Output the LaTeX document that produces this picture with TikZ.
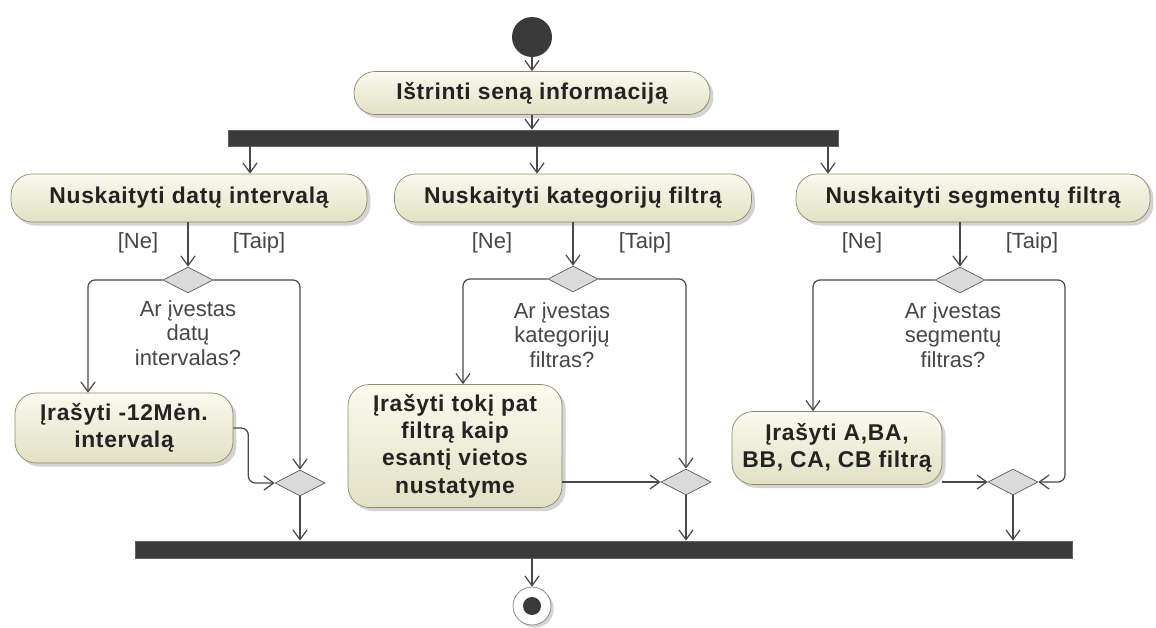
\documentclass[tikz,border=0pt]{standalone}
\usepackage{fontspec}
\setmainfont{Liberation Sans}
\usepackage{tikz}
\usetikzlibrary{arrows.meta,shapes.geometric,shadows}
\definecolor{barcol}{RGB}{58,58,58}
\definecolor{linecol}{RGB}{72,72,72}
\definecolor{boxedge}{RGB}{138,138,108}
\definecolor{boxtop}{RGB}{250,250,238}
\definecolor{boxbot}{RGB}{226,224,196}
\definecolor{diafill}{RGB}{218,218,218}
\definecolor{txtcol}{RGB}{35,35,35}
\definecolor{guardcol}{RGB}{70,70,70}
\tikzset{
  action/.style={draw=boxedge,rounded corners=12pt,top color=boxtop,bottom color=boxbot,
    text=txtcol,font=\fontsize{13}{15.5}\selectfont\bfseries\addfontfeatures{LetterSpace=3},
    align=center,
    drop shadow={shadow xshift=2pt,shadow yshift=-2pt,opacity=0.35}},
  syncbar/.style={fill=barcol,draw=barcol!80,inner sep=0pt},
  decision/.style={diamond,draw=gray!70!black,fill=diafill,inner sep=0pt,
    minimum width=1cm,minimum height=0.52cm},
  flow/.style={draw=linecol,line width=0.7pt,-{Straight Barb[length=5.5pt,width=8pt]}},
  guard/.style={text=guardcol,font=\fontsize{12.5}{14}\selectfont},
  question/.style={guard,align=center}
}
\begin{document}
\begin{tikzpicture}[x=0.02cm,y=-0.02cm]
\useasboundingbox (0,0) rectangle (1156,628);

% start, clearing and fork
\node[circle,fill=barcol,minimum size=0.8cm,inner sep=0pt] (start) at (532,37) {};
\node[action,minimum width=7.12cm,minimum height=0.86cm] (del) at (532,93) {Ištrinti seną informaciją};
\node[syncbar,minimum width=12.2cm,minimum height=0.32cm] (fork) at (533,138) {};
\draw[flow] (start) -- (del);
\draw[flow] (del.south) -- (del.south |- fork.north);

% readers
\node[action,minimum width=7.12cm,minimum height=0.96cm] (readA) at (189,198) {Nuskaityti datų intervalą};
\node[action,minimum width=7.14cm,minimum height=0.96cm] (readB) at (573,198) {Nuskaityti kategorijų filtrą};
\node[action,minimum width=7.08cm,minimum height=0.96cm] (readC) at (973,198) {Nuskaityti segmentų filtrą};
\draw[flow] (fork.south -| 250,0) -- (readA.north -| 250,0);
\draw[flow] (fork.south -| 537,0) -- (readB.north -| 537,0);
\draw[flow] (fork.south -| 828,0) -- (readC.north -| 828,0);

% decisions
\node[decision] (decA) at (188,280) {};
\node[decision] (decB) at (573,279) {};
\node[decision] (decC) at (960,280) {};
\draw[flow] (readA.south -| decA) -- (decA);
\draw[flow] (readB.south -| decB) -- (decB);
\draw[flow] (readC.south -| decC) -- (decC);
\node[guard] (neA) at (138,243) {[Ne]};
\node[guard] (taipA) at (259,243) {[Taip]};
\node[guard] (neB) at (492,243) {[Ne]};
\node[guard] (taipB) at (645,243) {[Taip]};
\node[guard] (neC) at (862,243) {[Ne]};
\node[guard] (taipC) at (1032,243) {[Taip]};
\node[question] (qA) at (188,333) {Ar įvestas\\datų\\intervalas?};
\node[question] (qB) at (562,335) {Ar įvestas\\kategorijų\\filtras?};
\node[question] (qC) at (953,335) {Ar įvestas\\segmentų\\filtras?};

% default values
\node[action,minimum width=4.36cm,minimum height=1.4cm] (setA) at (124,428) {Įrašyti -12Mėn.\\intervalą};
\node[action,minimum width=4.28cm,minimum height=2.46cm] (setB) at (455,446) {Įrašyti tokį pat\\filtrą kaip\\esantį vietos\\nustatyme};
\node[action,minimum width=4.2cm,minimum height=1.46cm] (setC) at (837,448) {Įrašyti A,BA,\\BB, CA, CB filtrą};

% merges
\node[decision] (mrgA) at (300,483) {};
\node[decision] (mrgB) at (686,482) {};
\node[decision] (mrgC) at (1013,482) {};
\draw[flow,rounded corners=4pt] (decA.west) -| (setA.north -| 88,0);
\draw[flow,rounded corners=4pt] (decA.east) -| (mrgA.north);
\draw[flow,rounded corners=4pt] (setA.east) -- ++(15,0) |- (mrgA.west);
\draw[flow,rounded corners=4pt] (decB.west) -| (setB.north -| 463,0);
\draw[flow,rounded corners=4pt] (decB.east) -| (mrgB.north);
\draw[flow] (setB.east |- mrgB.west) -- (mrgB.west);
\draw[flow,rounded corners=4pt] (decC.west) -| (setC.north -| 813,0);
\draw[flow,rounded corners=4pt] (decC.east) -- (decC.east -| 1065,0) |- (mrgC.east);
\draw[flow] (setC.east |- mrgC.west) -- (mrgC.west);

% join and end
\node[syncbar,minimum width=18.74cm,minimum height=0.34cm] (join) at (603.5,549.5) {};
\foreach \m in {mrgA,mrgB,mrgC}
  \draw[flow] (\m.south) -- (\m.south |- join.north);
\node[circle,draw=gray,fill=white,minimum size=0.76cm,inner sep=0pt,
      drop shadow={shadow xshift=1.5pt,shadow yshift=-1.5pt,opacity=0.35}] (end) at (532,606) {};
\fill[barcol] (end.center) circle (0.18cm);
\draw[flow] (join.south -| end) -- (end.north);
\end{tikzpicture}
\end{document}
